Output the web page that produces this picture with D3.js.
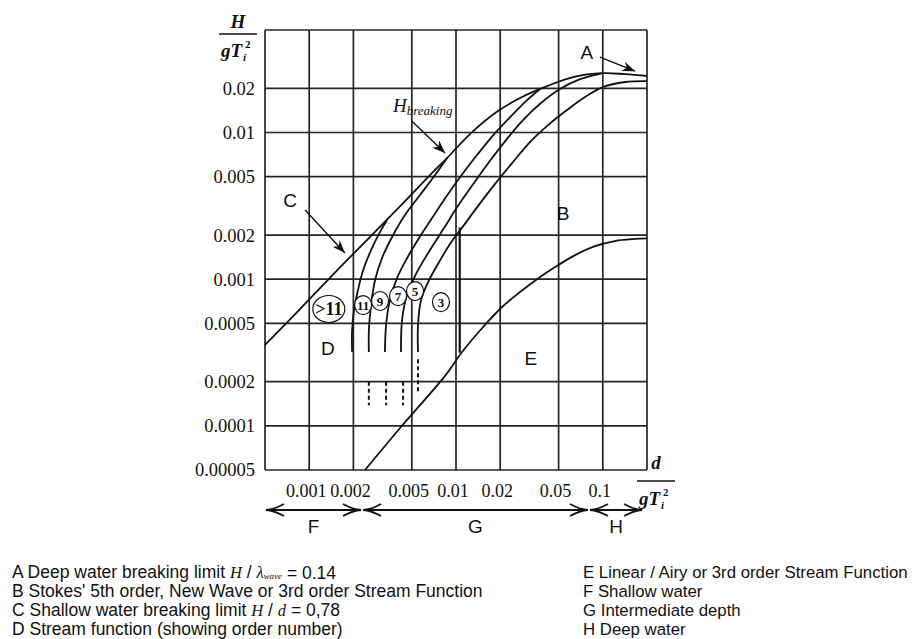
<!DOCTYPE html>
<html>
<head>
<meta charset="utf-8">
<script src="https://cdn.jsdelivr.net/npm/d3@7"></script>
<style>
  body { margin: 0; background: #fff; }
  text { fill: #111; }
  .serif { font-family: "Liberation Serif", "DejaVu Serif", serif; }
  .sans { font-family: "Liberation Sans", Arial, sans-serif; }
</style>
</head>
<body>
<svg id="chart" width="912" height="639"></svg>
<script>
// grid / tick values (d/gT^2 and H/gT^2)
const xGrid = [0.0005, 0.001, 0.002, 0.005, 0.01, 0.02, 0.05, 0.1, 0.2];
const xTickLabels = [0.001, 0.002, 0.005, 0.01, 0.02, 0.05, 0.1];
const yGrid = [0.00005, 0.0001, 0.0002, 0.0005, 0.001, 0.002, 0.005, 0.01, 0.02, 0.05];
const yTickLabels = [0.00005, 0.0001, 0.0002, 0.0005, 0.001, 0.002, 0.005, 0.01, 0.02];

// C (H/d = 0.78) running into the breaking limit and A (deep water breaking)
const breakingLimit = [[0.0005, 0.000356], [0.000866, 0.000626], [0.00155, 0.00115], [0.0026, 0.00194],
  [0.00464, 0.00352], [0.00665, 0.00513], [0.00869, 0.0067], [0.01246, 0.00976], [0.0193, 0.014],
  [0.0273, 0.0172], [0.0417, 0.0207], [0.0627, 0.0239], [0.1, 0.0254], [0.142, 0.025], [0.2, 0.0243]];

// stream function order boundaries
const order11 = [[0.00196, 0.000319], [0.00196, 0.00045], [0.00202, 0.000616], [0.00215, 0.000843],
  [0.00233, 0.00115], [0.00264, 0.00158], [0.00304, 0.0021], [0.00339, 0.00253]];
const order9 = [[0.00255, 0.000319], [0.00255, 0.00045], [0.00264, 0.000666], [0.00281, 0.000986],
  [0.00313, 0.00139], [0.00367, 0.00194], [0.00449, 0.00274], [0.00569, 0.00375], [0.0072, 0.00513],
  [0.00869, 0.0067]];
const order7 = [[0.00328, 0.000319], [0.00334, 0.000487], [0.00355, 0.00072], [0.00397, 0.00102],
  [0.00464, 0.00139], [0.0056, 0.00191], [0.00687, 0.00261], [0.00855, 0.00363], [0.0108, 0.00505],
  [0.0139, 0.00702], [0.0182, 0.00976], [0.0241, 0.01315], [0.03, 0.01638], [0.0374, 0.0198]];
const order5 = [[0.00422, 0.000319], [0.00429, 0.000527], [0.00464, 0.00078], [0.00543, 0.00112],
  [0.00665, 0.00158], [0.00829, 0.00223], [0.0103, 0.00315], [0.0131, 0.00445], [0.0168, 0.00629],
  [0.0219, 0.00888], [0.0286, 0.01216], [0.0379, 0.0159], [0.0511, 0.0198], [0.07, 0.0231], [0.1, 0.0254]];
const order3 = [[0.00551, 0.000319], [0.00551, 0.000487], [0.00578, 0.00072], [0.00645, 0.000956],
  [0.00754, 0.00127], [0.0091, 0.00174], [0.0112, 0.0023], [0.0141, 0.00315], [0.0184, 0.00445],
  [0.0241, 0.00619], [0.0319, 0.00861], [0.0424, 0.01124], [0.057, 0.01422], [0.0756, 0.01744],
  [0.1, 0.0204], [0.142, 0.0221], [0.2, 0.0224]];

// E / B boundary (linear theory limit)
const linearLimit = [[0.0024, 0.00005], [0.00416, 0.0000967], [0.00842, 0.000219], [0.011, 0.000319],
  [0.0153, 0.000472], [0.0206, 0.000646], [0.0273, 0.000817], [0.0356, 0.001], [0.0473, 0.00121],
  [0.0647, 0.00146], [0.0885, 0.00168], [0.121, 0.00182], [0.166, 0.00188], [0.2, 0.0019]];

// 3rd order / Stokes boundary (vertical)
const stokesLimit = [[0.0106, 0.000315], [0.0106, 0.00225]];

// dashed continuations: [d, Hfrom, Hto]
const dashedParts = [[0.00255, 0.0002, 0.000138], [0.00334, 0.0002, 0.000138],
  [0.00436, 0.0002, 0.000138], [0.00551, 0.000285, 0.000172]];

// circled order numbers
const orderLabels = ['>11', '11', '9', '7', '5', '3'];
const orderLabelPos = [[0.00136, 0.000626], [0.00233, 0.000666], [0.00304, 0.00071],
  [0.00403, 0.000767], [0.00526, 0.00083], [0.0079, 0.000698]];

// region letters
const regionLetters = ['A', 'B', 'C', 'D', 'E'];
const regionPos = [[0.078, 0.0354], [0.0536, 0.00282], [0.00074, 0.00346], [0.00134, 0.000339], [0.0324, 0.00029]];

// pointer arrows: [from, to]
const pointers = [
  [[0.0957, 0.0327], [0.166, 0.0262]],
  [[0.005, 0.012], [0.00842, 0.00724]],
  [[0.000937, 0.00296], [0.00175, 0.00151]]
];

// water depth regimes
const regimeBounds = [0.0005, 0.00229, 0.0805, 0.188];
const regimeLabels = ['F', 'G', 'H'];

const legendLeft = [
  ['A Deep water breaking limit ', {i: 'H'}, ' / ', {i: 'λ'}, {sub: 'wave'}, ' = 0.14'],
  ['B Stokes\' 5th order, New Wave or 3rd order Stream Function'],
  ['C Shallow water breaking limit ', {i: 'H'}, ' / ', {i: 'd'}, ' = 0,78'],
  ['D Stream function (showing order number)']
];
const legendRight = [
  ['E Linear / Airy or 3rd order Stream Function'],
  ['F Shallow water'],
  ['G Intermediate depth'],
  ['H Deep water']
];

const svg = d3.select('#chart');
const plotL = 265, plotR = 647, plotT = 30, plotB = 470;

const x = d3.scaleLog().domain([0.0005, 0.2]).range([plotL, plotR]);
const y = d3.scaleLog().domain([0.00005, 0.05]).range([plotB, plotT]);

// grid
const grid = svg.append('g').attr('stroke', '#262626').attr('stroke-width', 1.7);
grid.selectAll('line.v').data(xGrid).join('line').attr('class', 'v')
  .attr('x1', d => x(d)).attr('x2', d => x(d)).attr('y1', plotT).attr('y2', plotB);
grid.selectAll('line.h').data(yGrid).join('line').attr('class', 'h')
  .attr('y1', d => y(d)).attr('y2', d => y(d)).attr('x1', plotL).attr('x2', plotR);

// tick labels
svg.append('g').selectAll('text').data(yTickLabels).join('text')
  .attr('class', 'serif').attr('font-size', 18.5)
  .attr('x', plotL - 10).attr('y', d => y(d)).attr('dy', '0.35em')
  .attr('text-anchor', 'end').text(d => String(d));
svg.append('g').selectAll('text').data(xTickLabels).join('text')
  .attr('class', 'serif').attr('font-size', 18)
  .attr('x', d => x(d) - 3).attr('y', plotB + 27)
  .attr('text-anchor', 'middle').text(d => String(d));

// axis titles (fractions)
function fraction(cx, yNum, yBar, yDen, num, barW) {
  const g = svg.append('g').attr('class', 'serif').attr('font-style', 'italic').attr('font-weight', 'bold');
  g.append('text').attr('x', cx).attr('y', yNum).attr('text-anchor', 'middle').attr('font-size', 19).text(num);
  g.append('line').attr('x1', cx - barW / 2).attr('x2', cx + barW / 2).attr('y1', yBar).attr('y2', yBar)
    .attr('stroke', '#111').attr('stroke-width', 1.5);
  g.append('text').attr('x', cx - 17).attr('y', yDen).attr('font-size', 19).text('gT');
  g.append('text').attr('x', cx + 7).attr('y', yDen - 9).attr('font-size', 11).attr('font-style', 'normal').text('2');
  g.append('text').attr('x', cx + 5).attr('y', yDen + 4).attr('font-size', 11).text('i');
}
fraction(238, 28, 34, 57, 'H', 38);
fraction(656, 469, 481, 505, 'd', 38);

// curves
const line = d3.line().x(d => x(d[0])).y(d => y(d[1])).curve(d3.curveCatmullRom.alpha(0.5));
const curves = svg.append('g').attr('fill', 'none').attr('stroke', '#111').attr('stroke-width', 1.8);
[breakingLimit, order11, order9, order7, order5, order3, linearLimit].forEach(c => {
  curves.append('path').attr('d', line(c));
});
curves.append('path').attr('d', d3.line().x(d => x(d[0])).y(d => y(d[1]))(stokesLimit)).attr('stroke-width', 2.2);
curves.selectAll('line.dash').data(dashedParts).join('line').attr('class', 'dash')
  .attr('x1', d => x(d[0])).attr('x2', d => x(d[0])).attr('y1', d => y(d[1])).attr('y2', d => y(d[2]))
  .attr('stroke-width', 2).attr('stroke-dasharray', '4,3');

// circled labels
const circ = svg.append('g');
orderLabels.forEach((t, i) => {
  const cx = x(orderLabelPos[i][0]), cy = y(orderLabelPos[i][1]);
  const big = i === 0;
  circ.append('ellipse').attr('cx', cx).attr('cy', cy).attr('rx', big ? 16 : 8.5).attr('ry', big ? 13.5 : 9.5)
    .attr('fill', '#fff').attr('stroke', '#111').attr('stroke-width', 1.2);
  circ.append('text').attr('class', 'serif').attr('x', cx).attr('y', cy).attr('dy', '0.35em')
    .attr('text-anchor', 'middle').attr('font-size', big ? 18 : 13).attr('font-weight', 'bold').text(t);
});

// region letters
svg.append('g').selectAll('text').data(regionLetters).join('text')
  .attr('class', 'sans').attr('font-size', 19)
  .attr('x', (d, i) => x(regionPos[i][0])).attr('y', (d, i) => y(regionPos[i][1])).attr('dy', '0.35em')
  .attr('text-anchor', 'middle').text(d => d);

// H breaking label
const hb = svg.append('text').attr('class', 'serif').attr('font-style', 'italic')
  .attr('x', x(0.00372)).attr('y', y(0.0138));
hb.append('tspan').attr('font-size', 19).text('H');
hb.append('tspan').attr('font-size', 13).attr('dy', 3).text('breaking');

// markers
const defs = svg.append('defs');
defs.append('marker').attr('id', 'head').attr('viewBox', '-13 -5 14 10').attr('refX', 0).attr('refY', 0)
  .attr('markerWidth', 14).attr('markerHeight', 10).attr('markerUnits', 'userSpaceOnUse').attr('orient', 'auto')
  .append('path').attr('d', 'M0,0 L-13,-5 L-9,0 L-13,5 Z').attr('fill', '#111');
defs.append('marker').attr('id', 'chev').attr('viewBox', '-19 -7 20 14').attr('refX', 0).attr('refY', 0)
  .attr('markerWidth', 20).attr('markerHeight', 14).attr('markerUnits', 'userSpaceOnUse').attr('orient', 'auto-start-reverse')
  .append('path').attr('d', 'M-18,-6 Q-8,-0.5 0,0 Q-8,0.5 -18,6').attr('fill', 'none').attr('stroke', '#111').attr('stroke-width', 1.8);

svg.append('g').selectAll('line').data(pointers).join('line')
  .attr('x1', d => x(d[0][0])).attr('y1', d => y(d[0][1]))
  .attr('x2', d => x(d[1][0])).attr('y2', d => y(d[1][1]))
  .attr('stroke', '#111').attr('stroke-width', 1.4).attr('marker-end', 'url(#head)');

// regime arrows
const ay = 510;
const reg = svg.append('g');
regimeLabels.forEach((t, i) => {
  const a = regimeBounds[i], b = regimeBounds[i + 1];
  reg.append('line').attr('x1', x(a) + 1).attr('x2', x(b) - 1).attr('y1', ay).attr('y2', ay)
    .attr('stroke', '#111').attr('stroke-width', 1.8)
    .attr('marker-start', 'url(#chev)').attr('marker-end', 'url(#chev)');
  reg.append('text').attr('class', 'sans').attr('font-size', 19).attr('text-anchor', 'middle')
    .attr('x', x(Math.sqrt(a * b))).attr('y', ay + 23).text(t);
});

// legend
function legendBlock(rows, lx, size) {
  rows.forEach((parts, i) => {
    const t = svg.append('text').attr('class', 'sans').attr('font-size', size).attr('x', lx).attr('y', 578 + i * 19);
    parts.forEach(p => {
      if (typeof p === 'string') t.append('tspan').text(p);
      else if (p.i) t.append('tspan').attr('class', 'serif').attr('font-style', 'italic').attr('font-size', size - 1).text(p.i);
      else if (p.sub) {
        t.append('tspan').attr('class', 'serif').attr('font-style', 'italic').attr('font-size', 9).attr('dy', 1).text(p.sub);
        t.append('tspan').attr('dy', -1).text('');
      }
    });
  });
}
legendBlock(legendLeft, 12, 17.5);
legendBlock(legendRight, 583, 16.8);
</script>
</body>
</html>
